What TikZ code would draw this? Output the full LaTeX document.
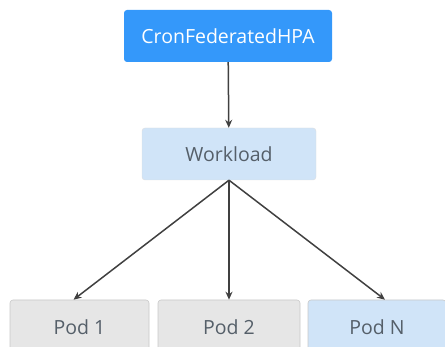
\documentclass[tikz,border=0pt]{standalone}
\usepackage{fontspec}
\setmainfont{Open Sans}
\usetikzlibrary{arrows.meta,positioning,calc}
\definecolor{HpaBlue}{RGB}{52,152,250}
\definecolor{SoftBlue}{RGB}{208,228,248}
\definecolor{SoftGray}{RGB}{230,230,230}
\definecolor{EdgeGray}{RGB}{200,200,200}
\definecolor{TextGray}{RGB}{85,95,105}
\definecolor{ArrowGray}{RGB}{64,64,64}
\tikzset{
  box/.style={rounded corners=3pt,inner sep=0pt,minimum height=52pt,font=\fontsize{19.5}{22}\selectfont,text=TextGray},
  podbox/.style={box,fill=SoftGray,draw=EdgeGray,line width=0.6pt,minimum height=54pt},
  link/.style={->,ArrowGray,line width=1.5pt}
}
\begin{document}
\begin{tikzpicture}[x=1pt,y=-1pt,>={Stealth[length=8pt,width=7pt]}]
  \useasboundingbox (0,0) rectangle (445,347);
  \clip (0,0) rectangle (445,347);
  \node[box,fill=HpaBlue,text=white,minimum width=208pt] (hpa) at (228,36) {CronFederatedHPA};
  \node[box,fill=SoftBlue,draw=EdgeGray!60,minimum width=174pt] (wl) at (229,154) {Workload};
  \node[podbox,minimum width=139pt] (p1) at (79.5,327) {Pod 1};
  \node[podbox,minimum width=142pt] (p2) at (229,327) {Pod 2};
  \node[podbox,fill=SoftBlue,minimum width=138pt] (pn) at (377,327) {Pod N};
  \draw[link] (hpa) -- (wl);
  \draw[link] (wl.south) -- ($(p1.north)+(-6,0)$);
  \draw[link] (wl.south) -- (p2.north);
  \draw[link] (wl.south) -- ($(pn.north)+(8,0)$);
\end{tikzpicture}
\end{document}
